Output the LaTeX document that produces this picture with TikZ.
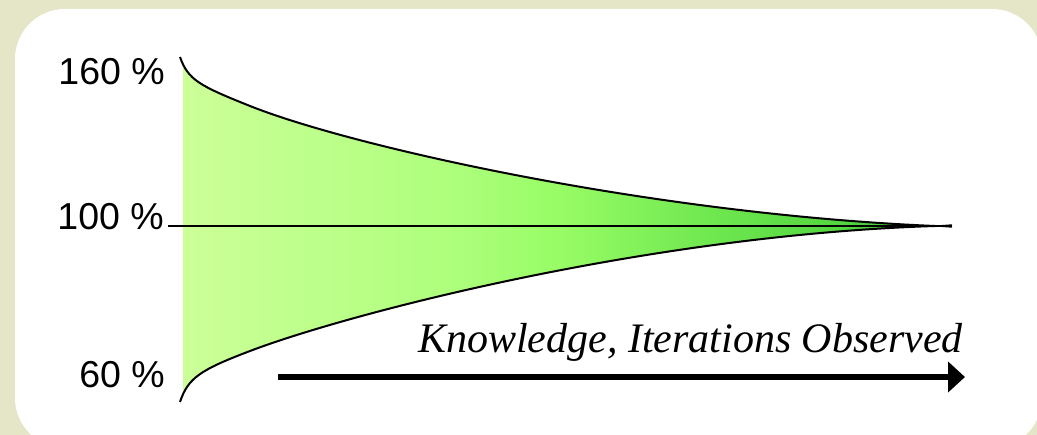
\documentclass[tikz,border=0pt]{standalone}
\usepackage{fontspec}
\setmainfont{Liberation Sans}
\newfontfamily\timesfam{Liberation Serif}
\usetikzlibrary{arrows.meta}
\definecolor{bgbeige}{RGB}{229,229,199}
\definecolor{ga}{RGB}{204,255,153}
\definecolor{gb}{RGB}{175,255,125}
\definecolor{gc}{RGB}{152,252,102}
\definecolor{gd}{RGB}{112,232,80}
\definecolor{ge}{RGB}{78,210,60}
\definecolor{gf}{RGB}{60,198,50}
\pgfdeclarehorizontalshading{greenfade}{100bp}{color(0bp)=(ga); color(25bp)=(ga); color(42.5bp)=(gb); color(50bp)=(gc); color(60bp)=(gd); color(70bp)=(ge); color(75bp)=(gf); color(100bp)=(gf)}
\tikzset{
  pctlabel/.style={anchor=base east, inner sep=0pt, font=\fontsize{37.5}{40}\selectfont},
  curveline/.style={line width=2pt, black},
}
\begin{document}
\begin{tikzpicture}[x=1pt,y=-1pt]
\useasboundingbox (0,0) rectangle (1037,435);
\fill[bgbeige] (0,0) rectangle (1037,435);
\fill[white, rounded corners=50pt] (15,9) rectangle (1042,448);
% filled cone
\begin{scope}
\clip (183,0) rectangle (1037,435);
\shade[shading=greenfade]
  (180,57) .. controls (188,80) and (200,86) .. (250,106)
  .. controls (350,146) and (650,214) .. (935,226)
  .. controls (650,235) and (350,313) .. (250,351)
  .. controls (200,370) and (188,378) .. (180,402) -- cycle;
\end{scope}
\draw[curveline] (180,57) .. controls (188,80) and (200,86) .. (250,106)
  .. controls (350,146) and (650,214) .. (935,226);
\draw[curveline] (180,402) .. controls (188,378) and (200,370) .. (250,351)
  .. controls (350,313) and (650,235) .. (935,226);
\draw[line width=1pt] (935,226) -- (952,224.8);
\draw[line width=1pt] (935,226) -- (952,227.2);
% centre line
\coordinate (cl) at (168,226);
\coordinate (cr) at (952,226);
\draw[line width=2pt] (cl) -- (cr);
% labels
\node[pctlabel] (l160) at (165,85) {160 \%};
\node[pctlabel] (l100) at (164,230) {100 \%};
\node[pctlabel] (l60) at (165,388) {60 \%};
% arrow
\coordinate (as) at (278,377);
\coordinate (ae) at (965,377);
\draw[line width=6.5pt, -{Triangle[length=17pt,width=30pt]}] (as) -- (ae);
\node[anchor=base east, inner sep=0pt, font=\fontsize{42}{46}\selectfont\timesfam\itshape] (xlab) at (963,353) {Knowledge, Iterations Observed};
\end{tikzpicture}
\end{document}
